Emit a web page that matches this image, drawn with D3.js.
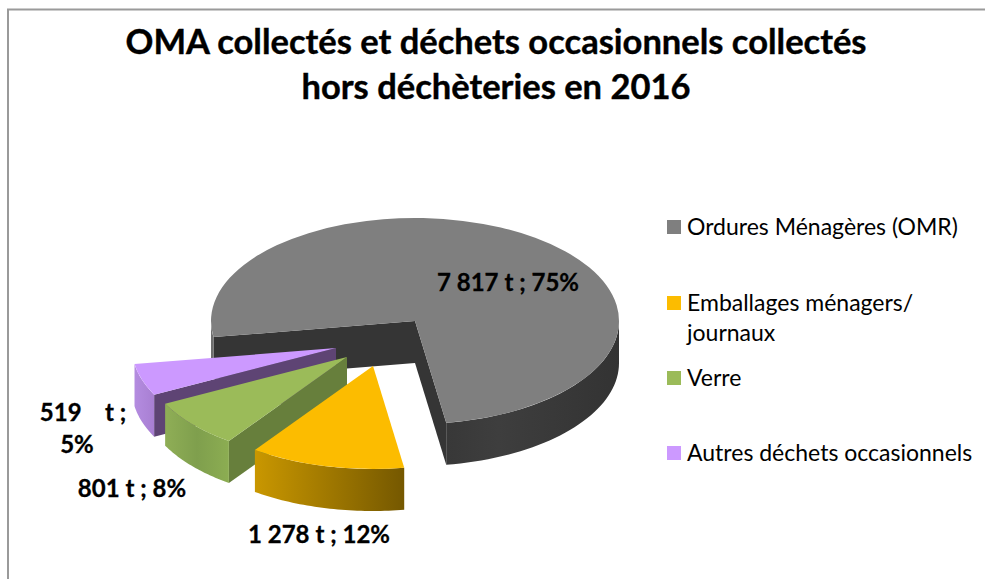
<!DOCTYPE html>
<html>
<head>
<meta charset="utf-8">
<script src="https://cdn.jsdelivr.net/npm/d3@7"></script>
<style>
html, body { margin: 0; padding: 0; background: #fff; }
svg { display: block; }
text { font-family: Lato, "Open Sans", sans-serif; fill: #000; }
</style>
</head>
<body>
<div id="canvas"></div>
<script>
const categories = ["Ordures Ménagères (OMR)", "Emballages ménagers/", "Verre", "Autres déchets occasionnels"];
const tonnages = [7817, 1278, 801, 519];
const labels = ["7 817 t ; 75%", "1 278 t ; 12%", "801 t ; 8%", "519    t ;"];
const titleLines = ["OMA collectés et déchets occasionnels collectés", "hors déchèteries en 2016"];

const width = 985;
const height = 579;
const rx = 204;
const ry = 103;
const depth = 42;
const cx = 415;
const cy = 321;

const colors = ["#7f7f7f", "#fcbc00", "#9bbb59", "#cc99ff"];
const radialWalls = ["#353535", null, "#677f3c", "#5e4474"];

// how far each slice is pulled out from the centre (px)
const explode = [[0, 0], [-42, 45], [-68, 36], [-79, 27]];

const svg = d3.select("#canvas").append("svg")
    .attr("width", width)
    .attr("height", height);

const defs = svg.append("defs");

const gradient = (id, stops) => {
    const g = defs.append("linearGradient").attr("id", id);
    stops.forEach(s => g.append("stop").attr("offset", s[0]).attr("stop-color", s[1]));
};
gradient("wall0", [[0, "#383838"], [0.3, "#3e3e3e"], [1, "#333333"]]);
gradient("wall1", [[0, "#c99700"], [1, "#755800"]]);
gradient("wall2", [[0, "#8fae56"], [0.5, "#7f9f4d"], [1, "#8cad52"]]);
gradient("wall3", [[0, "#b48ce0"], [1, "#a87fd2"]]);

// frame, open on the right and at the bottom edge of the picture
svg.append("path")
    .attr("d", d3.line()([[8, height], [8, 9.5], [width, 9.5]]))
    .attr("fill", "none")
    .attr("stroke", "#9a9a9a")
    .attr("stroke-width", 2);

svg.append("g")
    .selectAll("text")
    .data(titleLines)
    .enter().append("text")
    .attr("x", 496)
    .attr("y", (d, i) => 54 + i * 45)
    .attr("text-anchor", "middle")
    .style("font-size", "34.5px")
    .style("font-weight", 700)
    .style("stroke", "#000")
    .style("stroke-width", 0.4)
    .text(d => d);

// start the big slice so that it ends just after the bottom of the pie
const startAngle = -99 * Math.PI / 180;
const pie = d3.pie().sort(null).startAngle(startAngle).endAngle(startAngle + 2 * Math.PI);
const slices = pie(tonnages);

const rim = a => [rx * Math.sin(a), -ry * Math.cos(a)];

const wallPath = (a0, a1) => {
    const steps = d3.range(0, 41).map(i => rim(a0 + (a1 - a0) * i / 40));
    const bottom = steps.slice().reverse().map(p => [p[0], p[1] + depth]);
    return d3.line()(steps.concat(bottom)) + "Z";
};

const radialPath = a => {
    const p = rim(a);
    return d3.line()([[0, 0], p, [p[0], p[1] + depth], [0, depth]]) + "Z";
};

const arc = d3.arc().innerRadius(0).outerRadius(rx);

const drawSlice = (d, i) => {
    const g = svg.append("g")
        .attr("transform", `translate(${cx + explode[i][0]},${cy + explode[i][1]})`);

    if (i === 0) {
        // the cut in the big slice shows both of its inner walls
        g.append("path").attr("d", radialPath(d.startAngle)).attr("fill", radialWalls[0]);
        g.append("path").attr("d", radialPath(d.endAngle)).attr("fill", radialWalls[0]);
        g.append("path").attr("d", wallPath(Math.PI / 2, d.endAngle)).attr("fill", "url(#wall0)");
        g.append("path").attr("d", wallPath(d.startAngle, -Math.PI / 2)).attr("fill", "#6e6e6e");
    } else {
        if (radialWalls[i]) {
            g.append("path").attr("d", radialPath(d.startAngle)).attr("fill", radialWalls[i]);
        }
        g.append("path").attr("d", wallPath(d.startAngle, d.endAngle)).attr("fill", `url(#wall${i})`);
    }

    g.append("path")
        .attr("d", arc(d))
        .attr("transform", `scale(1,${ry / rx})`)
        .attr("fill", colors[i]);
};

// back to front
[0, 3, 2, 1].forEach(i => drawSlice(slices[i], i));

const labelPos = [[508, 291], [319, 543], [132, 497], [83, 421]];
svg.append("g")
    .selectAll("text")
    .data(labels)
    .enter().append("text")
    .attr("x", (d, i) => labelPos[i][0])
    .attr("y", (d, i) => labelPos[i][1])
    .attr("text-anchor", "middle")
    .style("font-size", "24px")
    .style("font-weight", 700)
    .style("stroke", "#000")
    .style("stroke-width", 0.3)
    .style("white-space", "pre")
    .text(d => d);

svg.append("text")
    .attr("x", 77)
    .attr("y", 453)
    .attr("text-anchor", "middle")
    .style("font-size", "24px")
    .style("font-weight", 700)
    .style("stroke", "#000")
    .style("stroke-width", 0.3)
    .text("5%");

const legendY = [227, 303, 378, 453];
const legend = svg.append("g");
legend.selectAll("rect")
    .data(categories)
    .enter().append("rect")
    .attr("x", 667)
    .attr("y", (d, i) => legendY[i] - 7)
    .attr("width", 14)
    .attr("height", 14)
    .attr("fill", (d, i) => colors[i]);

legend.selectAll("text")
    .data(categories)
    .enter().append("text")
    .attr("x", 687)
    .attr("y", (d, i) => legendY[i] + 8)
    .style("font-size", "23px")
    .text(d => d);

legend.append("text")
    .attr("x", 687)
    .attr("y", 341)
    .style("font-size", "23px")
    .text("journaux");
</script>
</body>
</html>
